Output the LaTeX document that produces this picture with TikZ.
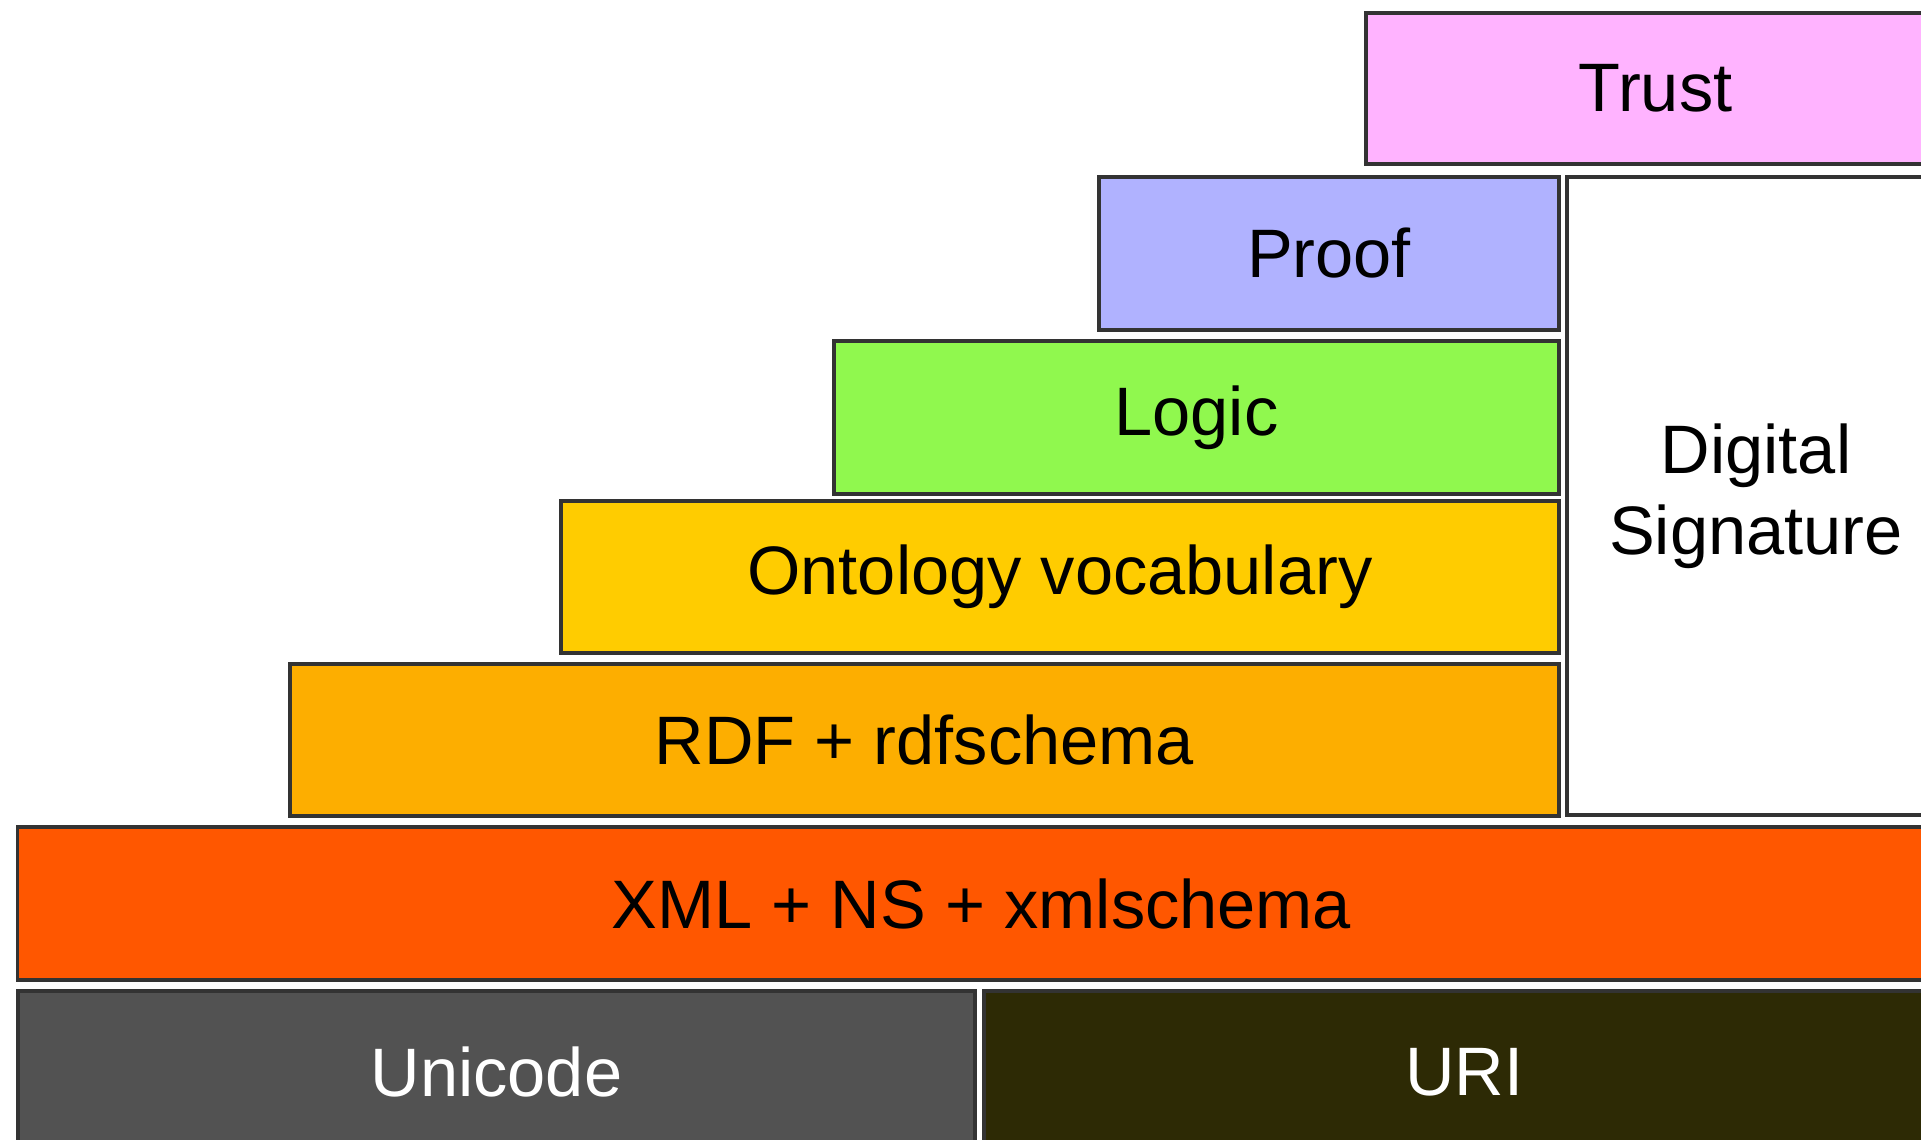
\documentclass[tikz,border=0pt]{standalone}
\usepackage{fontspec}
\setmainfont{Liberation Sans}
\usepackage{xcolor}
\usepackage{tikz}
\usetikzlibrary{positioning}

\definecolor{trustpink}{RGB}{255,179,255}
\definecolor{proofblue}{RGB}{176,178,255}
\definecolor{logicgreen}{RGB}{144,248,78}
\definecolor{ontoyellow}{RGB}{255,204,0}
\definecolor{rdforange}{RGB}{253,174,0}
\definecolor{xmlred}{RGB}{255,87,0}
\definecolor{unigray}{RGB}{82,82,82}
\definecolor{uriolive}{RGB}{45,42,5}

\tikzset{
  layer/.style={draw=black!80, line width=1.1pt, rectangle, inner sep=0pt,
    font=\fontsize{19.5}{23}\selectfont, text=black},
}

\begin{document}
\begin{tikzpicture}[x=0.01cm, y=-0.01cm]
    \clip (0,0) rectangle (1921,1140);
    \fill[white] (0,0) rectangle (1921,1140);

    % top of the stack
    \node[layer, fill=trustpink, minimum width=5.79cm, minimum height=1.51cm] (trust) at (1655.5, 88.5) {Trust};
    \node[layer, fill=proofblue, minimum width=4.60cm, minimum height=1.53cm] (proof) at (1329, 253.5) {Proof};
    \node[layer, fill=logicgreen, minimum width=7.25cm, minimum height=1.53cm] (logic) at (1196.5, 417.5) {Logic};
    \node[layer, fill=ontoyellow, minimum width=9.98cm, minimum height=1.52cm] (onto) at (1060, 577) {Ontology vocabulary};
    \node[layer, fill=rdforange, minimum width=12.69cm, minimum height=1.52cm] (rdf) at (924.5, 740) {RDF + rdfschema};

    % side column
    \node[layer, fill=white, align=center, minimum width=3.78cm, minimum height=6.38cm] (sig) at (1756, 496) {Digital\\Signature};

    % base
    \node[layer, fill=xmlred, minimum width=19.27cm, minimum height=1.53cm] (xml) at (981.5, 903.5) {XML + NS + xmlschema};
    \node[layer, fill=unigray, text=white, minimum width=9.57cm, minimum height=1.62cm] (unicode) at (496.5, 1072) {Unicode};
    \node[layer, fill=uriolive, text=white, minimum width=9.61cm, minimum height=1.62cm] (uri) at (1464.5, 1072) {URI};
\end{tikzpicture}
\end{document}
